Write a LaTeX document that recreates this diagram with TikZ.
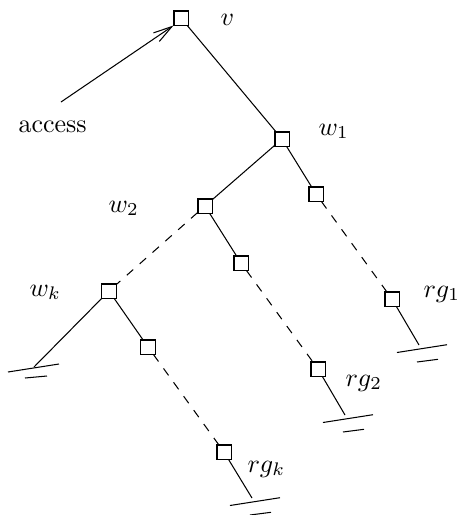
\documentclass[tikz,border=0pt]{standalone}
\usetikzlibrary{arrows.meta}
\begin{document}
\begin{tikzpicture}[x=0.3846pt,y=-0.3846pt,
  vert/.style={draw,rectangle,minimum size=5.4pt,inner sep=0pt,line width=0.4pt},
  lbl/.style={anchor=base west,inner sep=0pt},
  edge/.style={line width=0.4pt},
  lazy/.style={line width=0.4pt,dash pattern=on 3.3pt off 3.3pt},
  ground/.pic={\draw[line width=0.4pt] (-22,7.5) -- (28,-0.3);
               \draw[line width=0.4pt] (-2,17) -- (19,14.3);}]
\useasboundingbox (0,0) rectangle (460,515);

% vertices
\node[vert] (v)  at (181,18)  {};
\node[vert] (w1) at (282,139) {};
\node[vert] (c1) at (316,194) {};
\node[vert] (w2) at (205,206) {};
\node[vert] (c2) at (241,263) {};
\node[vert] (r1) at (392,299) {};
\node[vert] (wk) at (109,291) {};
\node[vert] (ck) at (148,347) {};
\node[vert] (r2) at (318,369) {};
\node[vert] (rk) at (224,452) {};

% loose ends of the branches
\coordinate (a)  at (61,102);
\coordinate (g0) at (34,367);
\coordinate (g1) at (419,345);
\coordinate (g2) at (345,415);
\coordinate (gk) at (252,498);

% labels
\node[lbl] (lv)  at (220,25)  {$v$};
\node[lbl] (lac) at (18,132)  {access};
\node[lbl] (l1)  at (318,135) {$w_1$};
\node[lbl] (l2)  at (108,212) {$w_2$};
\node[lbl] (lk)  at (29,296)  {$w_k$};
\node[lbl] (lr1) at (423,297) {$rg_1$};
\node[lbl] (lr2) at (345,386) {$rg_2$};
\node[lbl] (lrk) at (247,472) {$rg_k$};

% access pointer
\draw[edge,-{Straight Barb[length=7.2pt,width=4pt]}] (a) -- (v.south west);

% tree edges
\draw[edge] (v) -- (w1);
\draw[edge] (w1) -- (w2);
\draw[edge] (w1) -- (c1);
\draw[lazy] (c1) -- (r1);
\draw[lazy] (w2) -- (wk);
\draw[edge] (w2) -- (c2);
\draw[lazy] (c2) -- (r2);
\draw[edge] (wk) -- (ck);
\draw[lazy] (ck) -- (rk);
\draw[edge] (wk) -- (g0);
\draw[edge] (r1) -- (g1);
\draw[edge] (r2) -- (g2);
\draw[edge] (rk) -- (gk);

% ground marks
\draw[edge] ([shift={(-26,5)}]g0) -- ([shift={(25,-3)}]g0);
\draw[edge] ([shift={(-9,11)}]g0) -- ([shift={(13,9)}]g0);
\pic at (g1) {ground};
\pic at (g2) {ground};
\pic at (gk) {ground};
\end{tikzpicture}
\end{document}
